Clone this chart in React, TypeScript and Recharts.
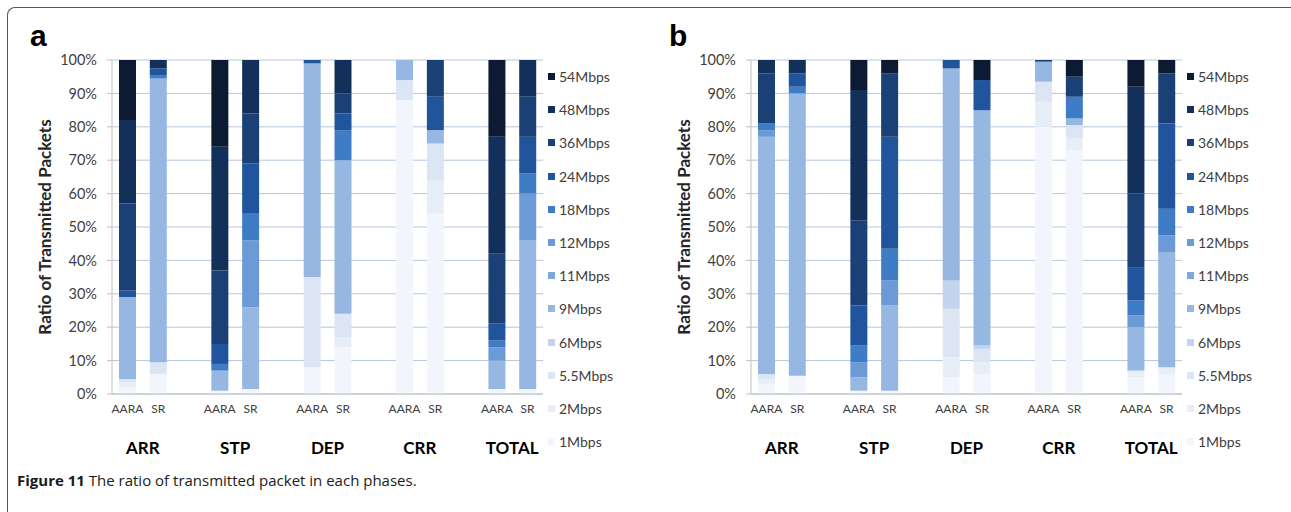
import { Bar, BarChart, CartesianGrid, XAxis, YAxis } from "recharts";

const rates = [
  "1Mbps", "2Mbps", "5.5Mbps", "6Mbps", "9Mbps", "11Mbps",
  "12Mbps", "18Mbps", "24Mbps", "36Mbps", "48Mbps", "54Mbps",
];
const rateColors = [
  "#f2f6fc", "#e8eef8", "#dbe5f3", "#c3d5ee", "#95b7e2", "#7ea8dc",
  "#6b9ad6", "#3e7cc6", "#20549c", "#1a4075", "#13305a", "#0c1a33",
];
const phases = ["ARR", "STP", "DEP", "CRR", "TOTAL"];
const schemes = ["AARA", "SR"];
const yTicks = [0, 10, 20, 30, 40, 50, 60, 70, 80, 90, 100];

// one row per rate (same order as `rates`), columns:
// ARR AARA, ARR SR, STP AARA, STP SR, DEP AARA, DEP SR, CRR AARA, CRR SR, TOTAL AARA, TOTAL SR
const panelA = [
  [2, 6, 1, 1.5, 8, 14, 88, 54, 1.5, 1.5],
  [1.5, 0, 0, 0, 0, 3, 0, 10, 0, 0],
  [1, 3.5, 0, 0, 27, 7, 6, 11, 0, 0],
  [0, 0, 0, 0, 0, 0, 0, 0, 0, 0],
  [24.5, 85, 6, 24.5, 64, 46, 6, 4, 8.5, 44.5],
  [0, 0, 0, 0, 0, 0, 0, 0, 0, 0],
  [0, 0, 0, 20, 0, 0, 0, 0, 4, 14],
  [0, 1, 2, 8, 0, 9, 0, 0, 2, 6],
  [2, 2, 6, 15, 1, 5, 0, 10, 5, 11],
  [26, 0, 22, 15, 0, 6, 0, 11, 21, 12],
  [25, 2.5, 37, 16, 0, 10, 0, 0, 35, 11],
  [18, 0, 26, 0, 0, 0, 0, 0, 23, 0],
];

const panelB = [
  [3, 5.5, 1, 1, 5, 6, 80, 73, 5, 6],
  [1.5, 0, 0, 0, 6, 3.5, 7.5, 3.5, 2, 2],
  [1.5, 0, 0, 0, 14.5, 4, 6, 4, 0, 0],
  [0, 0, 0, 0, 8.5, 1, 0, 0, 0, 0],
  [71, 84.5, 4, 25.5, 63.5, 70.5, 6, 2, 13, 34.5],
  [0, 0, 0, 0, 0, 0, 0, 0, 0, 0],
  [2, 0, 4.5, 7.5, 0, 0, 0, 0, 3.5, 5],
  [2, 2, 5, 9.5, 0, 0, 0, 6.5, 4.5, 8],
  [0, 4, 12, 33.5, 2.5, 9, 0, 0, 10, 25.5],
  [15, 0, 25.5, 19, 0, 0, 0.5, 6, 22, 15],
  [4, 4, 39, 0, 0, 0, 0, 0, 32, 0],
  [0, 0, 9, 4, 0, 6, 0, 5, 8, 4],
];

const FONT = "Lato, 'Open Sans', sans-serif";

// Excel-style layout: an empty category between phase groups
function buildRows(values: number[][]) {
  const rows: any[] = [];
  phases.forEach((phase, p) => {
    if (p > 0) rows.push({ name: "", pos: rows.length + 0.5 });
    schemes.forEach((s, k) => {
      const row: any = { name: s, pos: rows.length + 0.5, phase };
      rates.forEach((r, i) => (row[r] = values[i][p * 2 + k]));
      rows.push(row);
    });
  });
  return rows;
}

const groupTicks = phases.map((_, p) => p * 3 + 1);

function YTitle(props: any) {
  const { x, y, height } = props.viewBox;
  const cx = x - 16;
  const cy = y + height / 2;
  return (
    <text
      x={cx}
      y={cy}
      transform={`rotate(-90 ${cx} ${cy})`}
      textAnchor="middle"
      dominantBaseline="central"
      fontFamily={FONT}
      fontWeight={700}
      fontSize={17}
      fill="#262626"
    >
      Ratio of Transmitted Packets
    </text>
  );
}

function Panel(props: { letter: string; values: number[][]; left: number }) {
  const rows = buildRows(props.values);
  return (
    <div style={{ position: "absolute", left: props.left, top: 0, width: 650, height: 480 }}>
      <div
        style={{
          position: "absolute",
          left: 30,
          top: 21,
          fontFamily: "'Liberation Sans', Arial, sans-serif",
          fontWeight: 700,
          fontSize: 30,
          lineHeight: 1,
        }}
      >
        {props.letter}
      </div>
      <BarChart
        width={560}
        height={480}
        data={rows}
        margin={{ top: 60, right: 17, left: 60, bottom: 8 }}
        style={{ position: "absolute", left: 0, top: 0 }}
      >
        <CartesianGrid vertical={false} stroke="#b6c6dc" />
        <YAxis
          domain={[0, 100]}
          ticks={yTicks}
          tickFormatter={(v) => `${v}%`}
          width={52}
          tickSize={5}
          tickMargin={10}
          axisLine={{ stroke: "#bfbfbf" }}
          tickLine={{ stroke: "#bfbfbf" }}
          tick={{ fontSize: 14.5, fill: "#404040", fontFamily: FONT }}
          label={{ content: YTitle }}
        />
        <XAxis
          xAxisId="x1"
          dataKey="name"
          height={28}
          tickSize={0}
          tickMargin={10}
          interval={0}
          axisLine={{ stroke: "#bfbfbf" }}
          tickLine={false}
          tick={{ fontSize: 12, fill: "#404040", fontFamily: FONT }}
        />
        <XAxis
          xAxisId="x2"
          type="number"
          dataKey="pos"
          domain={[0, rows.length]}
          ticks={groupTicks}
          tickFormatter={(v) => phases[(v - 1) / 3]}
          height={50}
          tickSize={0}
          tickMargin={20}
          axisLine={false}
          tickLine={false}
          tick={{ fontSize: 17, fill: "#000", fontWeight: 700, fontFamily: FONT }}
        />
        {rates.map((r, i) => (
          <Bar
            key={r}
            xAxisId="x1"
            dataKey={r}
            stackId="rate"
            fill={rateColors[i]}
            barSize={17}
            isAnimationActive={false}
          />
        ))}
      </BarChart>
      <div style={{ position: "absolute", left: 548, top: 60, fontFamily: FONT }}>
        {rates
          .map((r, i) => ({ r, c: rateColors[i] }))
          .reverse()
          .map((it) => (
            <div
              key={it.r}
              style={{ height: 33.2, display: "flex", alignItems: "center", fontSize: 14, color: "#404040" }}
            >
              <span style={{ width: 7, height: 7, background: it.c, marginRight: 4, display: "inline-block" }} />
              {it.r}
            </div>
          ))}
      </div>
    </div>
  );
}

export default function App() {
  return (
    <div
      style={{
        position: "fixed",
        left: 0,
        top: 0,
        width: 1291,
        height: 512,
        background: "#fff",
        overflow: "hidden",
      }}
    >
      <div
        style={{
          position: "absolute",
          left: 7,
          top: 7,
          width: 1320,
          height: 540,
          borderLeft: "1px solid #555",
          borderTop: "1px solid #555",
          borderTopLeftRadius: 8,
        }}
      />
      <Panel letter="a" values={panelA} left={0} />
      <Panel letter="b" values={panelB} left={639} />
      <div
        style={{
          position: "absolute",
          left: 17,
          top: 470,
          fontFamily: "'Open Sans', sans-serif",
          fontSize: 15,
          color: "#1a1a1a",
        }}
      >
        <b>Figure 11</b> The ratio of transmitted packet in each phases.
      </div>
    </div>
  );
}
